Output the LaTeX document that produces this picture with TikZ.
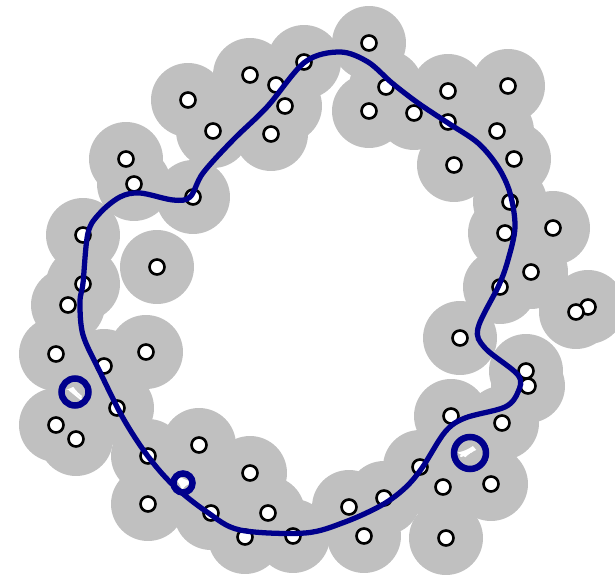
\documentclass[tikz,border=0pt]{standalone}
\usepackage{tikz}
\usetikzlibrary{positioning}

\definecolor{diskgray}{RGB}{192,192,192}
\definecolor{loopblue}{RGB}{0,0,140}

% Sample points (pixel coordinates)
\newcommand{\samplepts}{188/100, 250/75, 276/85, 285/106, 213/131, 271/134, 304/62,
    126/159, 134/184, 193/197, 83/235, 157/267, 83/284,
    369/43, 386/87, 369/111, 414/113, 448/91, 448/122, 508/86, 497/131,
    514/159, 454/165, 510/202, 505/233, 553/228, 531/272, 500/287,
    68/305, 56/354, 104/366, 146/352, 117/408, 56/425, 76/439,
    148/456, 199/445, 250/473, 148/504, 211/513, 268/513, 245/537, 293/536,
    588/307, 576/312, 460/338, 526/371, 528/386, 451/416, 502/423,
    420/467, 443/487, 491/484, 384/498, 349/507, 364/536, 446/538}

\begin{document}
\begin{tikzpicture}[
    x=0.02cm, y=-0.02cm,
    % Covering disks
    disk/.style={fill=diskgray},
    % Sample points
    dot/.style={
        circle, draw=black, fill=white, line width=1.5pt,
        inner sep=0pt, minimum size=0.3cm
    },
    % Holes of the cover
    hole/.style={
        circle, draw=loopblue, line width=3.7pt, inner sep=0pt
    },
    % Uncovered slivers
    gap/.style={white, line width=1.3pt, line cap=round},
    % Closed curve
    cyclepath/.style={draw=loopblue, line width=3pt},
]

\useasboundingbox (0,0) rectangle (615,577);
\clip (0,0) rectangle (615,577);

% ===== DISKS =====
\foreach \px/\py in \samplepts
    \fill[disk] (\px,\py) circle[radius=0.74cm];

% ===== SLIVERS =====
\draw[gap] (461,456) -- (472,451);
\draw[gap] (70,390) -- (81,399);
\fill[white] (179,478) -- (189,484) -- (181,488) -- cycle;

% ===== POINTS =====
\foreach \px/\py [count=\i] in \samplepts
    \node[dot] (pt\i) at (\px,\py) {};

% ===== CURVE =====
\draw[cyclepath] plot[smooth cycle, tension=0.55] coordinates {
    (305,62) (340,52) (368,62) (392,83) (418,103) (448,123) (478,143)
    (498,167) (510,193) (515,227) (508,260) (499,285) (478,328) (485,348)
    (518,375) (518,392) (505,407) (465,418) (445,432) (422,468) (405,488)
    (382,505) (345,522) (305,533) (240,530) (207,512) (173,485) (147,455)
    (123,418) (100,372) (83,335) (80,302) (83,283) (88,233) (100,213)
    (120,197) (140,193) (173,200) (190,197) (203,173) (233,140) (267,107)
};

% ===== HOLES =====
\node[hole, minimum size=0.64cm] (hole1) at (470,453) {};
\node[hole, minimum size=0.54cm] (hole2) at (75,392) {};
\node[hole, minimum size=0.38cm] (hole3) at (183,483) {};

\end{tikzpicture}
\end{document}
